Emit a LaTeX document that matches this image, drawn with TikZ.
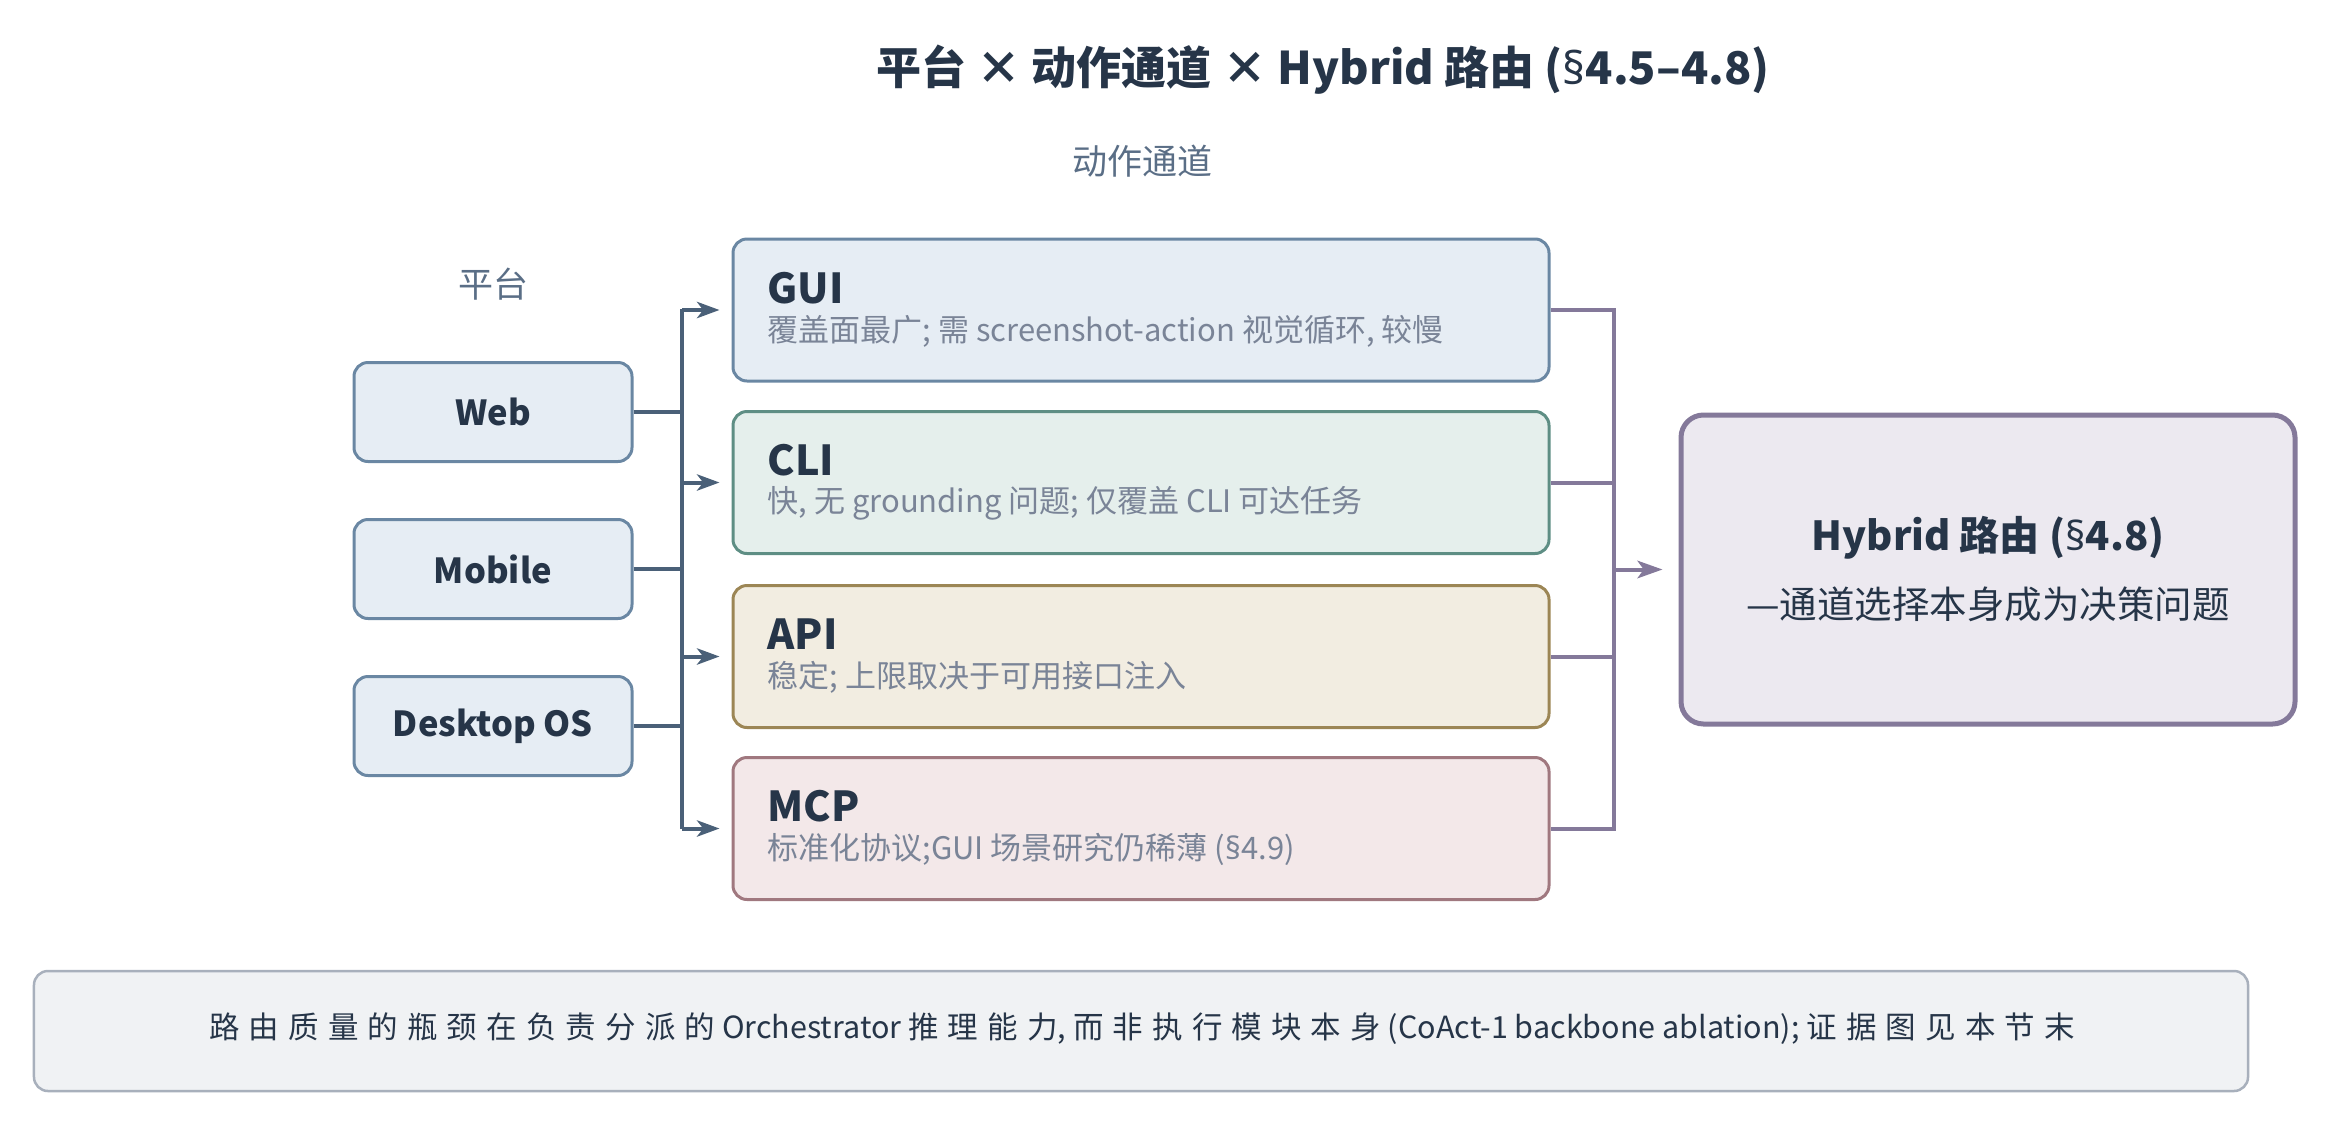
\documentclass[tikz,border=0pt]{standalone}
\usepackage{fontspec}
\setmainfont{Noto Sans CJK SC}
\newfontfamily\latf{Noto Sans}
\usetikzlibrary{arrows.meta}
\definecolor{ink}{HTML}{263548}
\definecolor{hdrc}{HTML}{5A6E86}
\definecolor{subc}{HTML}{7A8497}
\definecolor{bluef}{HTML}{E6EDF4}
\definecolor{blueb}{HTML}{6A87A3}
\definecolor{greenf}{HTML}{E5EFEC}
\definecolor{greenb}{HTML}{5E8E84}
\definecolor{sandf}{HTML}{F2EDE1}
\definecolor{sandb}{HTML}{9C8655}
\definecolor{rosef}{HTML}{F3E8E9}
\definecolor{roseb}{HTML}{A0787F}
\definecolor{purf}{HTML}{ECE9F0}
\definecolor{purb}{HTML}{84799A}
\definecolor{busl}{HTML}{4A6078}
\definecolor{notef}{HTML}{F0F2F4}
\definecolor{noteb}{HTML}{A8B0BC}
\newcommand\ks{\hspace{0.3em}}
\newcommand\secsym{{\latf §}}
\begin{document}
\begin{tikzpicture}[x=0.4pt,y=-0.4pt,
  plat/.style={draw=blueb, fill=bluef, rounded corners=5.6pt, line width=1.2pt,
    minimum width=111.2pt, minimum height=39.6pt, inner sep=0pt,
    font=\bfseries\fontsize{13.8}{16}\selectfont, text=ink},
  chan/.style={rounded corners=5.6pt, line width=1.2pt,
    minimum width=326.4pt, minimum height=56.8pt, inner sep=0pt},
  chtitle/.style={anchor=west, inner sep=0pt, text=ink, font=\bfseries\fontsize{16.5}{19}\selectfont},
  chsub/.style={anchor=west, inner sep=0pt, text=subc, font=\fontsize{12.4}{14}\selectfont},
  hdr/.style={text=hdrc, font=\fontsize{14}{16}\selectfont, inner sep=0pt},
  lbus/.style={draw=busl, line width=1.6pt},
  rbus/.style={draw=purb, line width=1.6pt},
  larrow/.style={lbus, -{Stealth[length=9pt,width=6.5pt,inset=2.5pt]}, shorten >=4.8pt},
  rarrow/.style={rbus, -{Stealth[length=10pt,width=7pt,inset=2.5pt]}, shorten >=6.4pt}
]
\useasboundingbox (0,0) rectangle (2331,1127);

% title and headers
\node[inner sep=0pt, text=ink, font=\bfseries\fontsize{18}{21}\selectfont] (title) at (1323,70)
  {平台 × 动作通道 × Hybrid 路由 (\secsym 4.5–4.8)};
\node[hdr] (hch) at (1142,161) {动作通道};
\node[hdr] (hpl) at (493,284) {平台};

% platforms
\node[plat] (web) at (493,412) {Web};
\node[plat] (mob) at (493,569) {Mobile};
\node[plat] (desk) at (493,726) {Desktop OS};

% channels
\node[chan, draw=blueb, fill=bluef] (gui) at (1141,310) {};
\node[chan, draw=greenb, fill=greenf] (cli) at (1141,482.5) {};
\node[chan, draw=sandb, fill=sandf] (api) at (1141,656.5) {};
\node[chan, draw=roseb, fill=rosef] (mcp) at (1141,828.5) {};

\node[chtitle] (guit) at (767,288) {GUI};
\node[chsub] (guis) at (767,331) {覆盖面最广; 需 screenshot-action 视觉循环, 较慢};
\node[chtitle] (clit) at (767,460) {CLI};
\node[chsub] (clis) at (767,503) {快, 无 grounding 问题; 仅覆盖 CLI 可达任务};
\node[chtitle] (apit) at (767,634) {API};
\node[chsub] (apis) at (767,677) {稳定; 上限取决于可用接口注入};
\node[chtitle] (mcpt) at (767,806) {MCP};
\node[chsub] (mcps) at (767,849) {标准化协议;GUI 场景研究仍稀薄 (\secsym 4.9)};

% hybrid
\node[draw=purb, fill=purf, line width=2pt, rounded corners=9pt,
  minimum width=245.6pt, minimum height=123.6pt, inner sep=0pt] (hyb) at (1988,569.5) {};
\node[inner sep=0pt, text=ink, font=\bfseries\fontsize{16}{19}\selectfont] (hybt) at (1988,538) {Hybrid 路由 (\secsym 4.8)};
\node[inner sep=0pt, text=ink, font=\fontsize{15}{18}\selectfont] (hybs) at (1988,604) {—通道选择本身成为决策问题};

% left bus
\coordinate (lbtop) at (682,309);
\coordinate (lbbot) at (682,828.5);
\draw[lbus] (lbtop) -- (lbbot);
\draw[lbus] (web.east) -- (web.east -| lbtop);
\draw[lbus] (mob.east) -- (mob.east -| lbtop);
\draw[lbus] (desk.east) -- (desk.east -| lbtop);
\draw[larrow] (gui.west -| lbtop) -- (gui.west);
\draw[larrow] (cli.west -| lbtop) -- (cli.west);
\draw[larrow] (api.west -| lbtop) -- (api.west);
\draw[larrow] (mcp.west -| lbtop) -- (mcp.west);

% right bus
\coordinate (rbx) at (1614,569.5);
\draw[rbus] (gui.east) -- (gui.east -| rbx) -- (mcp.east -| rbx) -- (mcp.east);
\draw[rbus] (cli.east) -- (cli.east -| rbx);
\draw[rbus] (api.east) -- (api.east -| rbx);
\draw[rarrow] (rbx) -- (hyb.west);

% note
\node[draw=noteb, fill=notef, line width=1pt, rounded corners=5.6pt,
  minimum width=885.6pt, minimum height=48pt, inner sep=0pt] (note) at (1141,1031) {};
\node[inner sep=0pt, text=ink, font=\fontsize{12.2}{14}\selectfont] (notet) at (1142,1029)
  {路\ks 由\ks 质\ks 量\ks 的\ks 瓶\ks 颈\ks 在\ks 负\ks 责\ks 分\ks 派\ks 的 Orchestrator 推\ks 理\ks 能\ks 力, 而\ks 非\ks 执\ks 行\ks 模\ks 块\ks 本\ks 身 (CoAct-1 backbone ablation); 证\ks 据\ks 图\ks 见\ks 本\ks 节\ks 末};
\end{tikzpicture}
\end{document}
